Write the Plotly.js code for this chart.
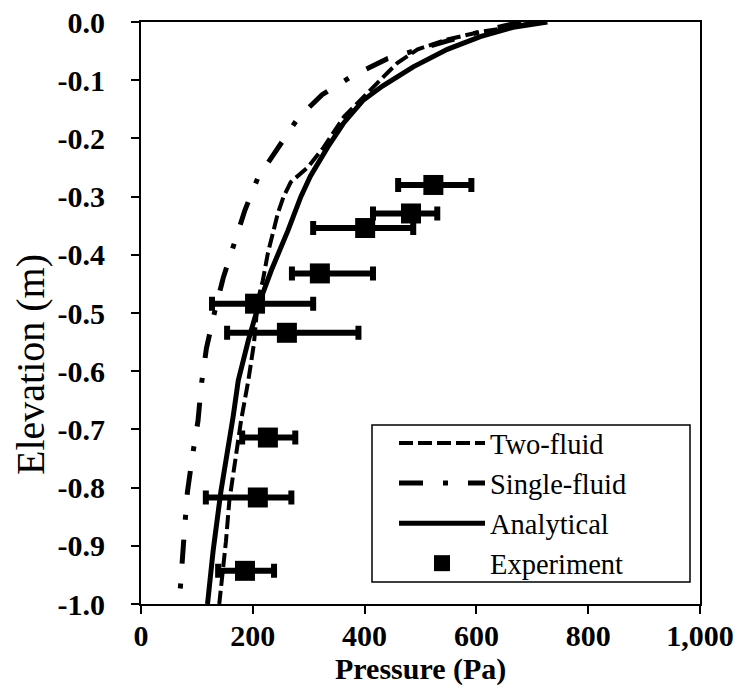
<!DOCTYPE html>
<html><head><meta charset="utf-8">
<script src="https://cdn.plot.ly/plotly-3.0.1.min.js"></script>
<style>html,body{margin:0;padding:0;background:#fff}</style>
</head><body><div id="chart" style="width:742px;height:686px"></div>
<script>
// Two-fluid model
const twoFluidP = [705, 666, 607, 548, 495, 459, 434, 398, 363, 327, 299, 268, 255, 245, 227, 218, 209, 202, 192, 179, 167, 158, 152, 143, 140];
const twoFluidE = [0, -0.008, -0.017, -0.030, -0.047, -0.070, -0.094, -0.128, -0.163, -0.215, -0.249, -0.275, -0.300, -0.328, -0.397, -0.444, -0.478, -0.553, -0.616, -0.685, -0.766, -0.823, -0.892, -0.983, -1.0];
// Single-fluid model
const singleP = [680, 650, 610, 550, 496, 441, 379, 324, 281, 244, 209, 186, 167, 147, 131, 117, 108, 102, 92, 83, 78, 74, 69];
const singleE = [0, -0.006, -0.016, -0.032, -0.047, -0.063, -0.092, -0.125, -0.165, -0.216, -0.268, -0.323, -0.380, -0.440, -0.501, -0.561, -0.623, -0.685, -0.746, -0.808, -0.870, -0.927, -0.991];
// Analytical solution
const analyticP = [727, 666, 607, 548, 487, 432, 398, 363, 334, 303, 286, 263, 233, 211, 192, 174, 165, 158, 143, 129, 119];
const analyticE = [0, -0.009, -0.025, -0.047, -0.077, -0.110, -0.134, -0.173, -0.215, -0.265, -0.300, -0.358, -0.427, -0.484, -0.547, -0.616, -0.677, -0.720, -0.806, -0.909, -1.0];
// Experiment
const expP = [523, 483, 401, 320, 204, 261, 227, 209, 186];
const expE = [-0.280, -0.329, -0.354, -0.432, -0.484, -0.534, -0.714, -0.817, -0.943];
const expMinus = [63, 68, 93, 50, 77, 107, 46, 93, 48];
const expPlus = [68, 47, 86, 95, 104, 128, 49, 60, 52];

const seriesNames = ['Two-fluid', 'Single-fluid', 'Analytical', 'Experiment'];
const xTickVals = [0, 200, 400, 600, 800, 1000];
const xTickText = ['0', '200', '400', '600', '800', '1,000'];
const yTickVals = [0, -0.1, -0.2, -0.3, -0.4, -0.5, -0.6, -0.7, -0.8, -0.9, -1.0];
const yTickText = ['0.0', '-0.1', '-0.2', '-0.3', '-0.4', '-0.5', '-0.6', '-0.7', '-0.8', '-0.9', '-1.0'];
const xTitle = 'Pressure (Pa)';
const yTitle = 'Elevation (m)';

const serif = 'Liberation Serif';
const bold = s => '<b>' + s + '</b>';

const traces = [
  {x: twoFluidP, y: twoFluidE, mode: 'lines', name: seriesNames[0],
   line: {color: '#000', width: 4, dash: '14px,5px'}},
  {x: singleP, y: singleE, mode: 'lines', name: seriesNames[1],
   line: {color: '#000', width: 5, dash: '24px,20px,5px,20px'}},
  {x: analyticP, y: analyticE, mode: 'lines', name: seriesNames[2],
   line: {color: '#000', width: 5}},
  {x: expP, y: expE, mode: 'markers', name: seriesNames[3],
   marker: {symbol: 'square', size: 20, color: '#000'},
   error_x: {type: 'data', symmetric: false, array: expPlus, arrayminus: expMinus,
             color: '#000', thickness: 6, width: 7}}
];

const L = 141, R = 42, T = 22, B = 82;
const W = 742, H = 686;
const pw = W - L - R, ph = H - T - B;
function px2x(px) { return (px - L) / pw; }
function py2y(py) { return (H - B - py) / ph; }

const layout = {
  width: W, height: H,
  margin: {l: L, r: R, t: T, b: B},
  paper_bgcolor: '#fff', plot_bgcolor: '#fff',
  font: {family: serif, color: '#000'},
  showlegend: true,
  xaxis: {
    range: [0, 1000], tickvals: xTickVals, ticktext: xTickText.map(bold),
    ticks: 'outside', ticklen: 8, tickwidth: 2, tickcolor: '#000',
    showline: true, linewidth: 2, linecolor: '#000', mirror: true,
    showgrid: false, zeroline: false,
    tickfont: {family: serif, size: 30, color: '#000'},
    ticklabelstandoff: -4
  },
  yaxis: {
    range: [-1, 0], tickvals: yTickVals, ticktext: yTickText.map(bold),
    ticks: 'outside', ticklen: 8, tickwidth: 2, tickcolor: '#000',
    showline: true, linewidth: 2, linecolor: '#000', mirror: true,
    showgrid: false, zeroline: false,
    tickfont: {family: serif, size: 30, color: '#000'},
    ticklabelstandoff: 20
  },
  legend: {
    x: px2x(394), y: py2y(418), xanchor: 'left', yanchor: 'top',
    borderwidth: 0, bgcolor: 'rgba(0,0,0,0)',
    font: {family: serif, size: 28.5, color: '#000'},
    itemwidth: 86, tracegroupgap: 0
  },
  shapes: [
    {type: 'rect', xref: 'paper', yref: 'paper',
     x0: px2x(372), x1: px2x(690), y0: py2y(425), y1: py2y(582),
     line: {color: '#000', width: 1.5}, fillcolor: 'rgba(0,0,0,0)', layer: 'above'}
  ],
  annotations: [
    {text: yTitle, xref: 'paper', yref: 'paper', x: px2x(30), y: py2y(365),
     xanchor: 'center', yanchor: 'middle', textangle: -90, showarrow: false,
     font: {family: serif, size: 40, color: '#000'}},
    {text: bold(xTitle), xref: 'paper', yref: 'paper', x: 0.5, y: py2y(669),
     xanchor: 'center', yanchor: 'middle', showarrow: false,
     font: {family: serif, size: 30, color: '#000'}}
  ]
};

Plotly.newPlot('chart', traces, layout, {staticPlot: true, displayModeBar: false});
</script>
</body></html>
